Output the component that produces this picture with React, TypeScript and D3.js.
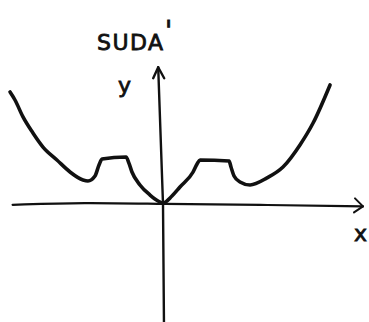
import React from "react";
import * as d3 from "d3";

// Curve sample points (data units)
const curveX = [-9.56, -9.25, -8.75, -8.13, -7.5, -6.63, -5.81, -5.0, -4.69, -4.25, -4.0, -3.81, -2.31, -2.13, -1.94, -1.44, -0.81, -0.31, 0, 0.56, 1.06, 1.88, 2.13, 2.31, 4.13, 4.25, 4.44, 4.81, 5.44, 6.5, 7.5, 8.56, 9.38, 10.44];
const curveY = [7.0, 6.5, 5.44, 4.44, 3.56, 2.75, 2.0, 1.5, 1.44, 1.75, 2.44, 2.81, 2.94, 2.56, 2.0, 1.19, 0.56, 0.19, 0.06, 0.5, 1.06, 2.0, 2.5, 2.75, 2.69, 2.31, 1.75, 1.38, 1.19, 1.63, 2.31, 3.69, 5.06, 7.44];

// Hand-drawn axes (data units)
const xAxisX = [-9.4, -5, 0, 6, 12.5];
const xAxisY = [-0.05, 0.1, 0, -0.05, -0.15];
const yAxisX = [0.06, 0, -0.3];
const yAxisY = [-7.4, 0, 8.55];

// Labels
const titleText = "SUDA";
const primeText = "'";
const yLabel = "y";
const xLabel = "x";

const W = 369;
const H = 322;

export default function App() {
  const x = d3.scaleLinear().domain([-10, 10]).range([3, 323]);
  const y = d3.scaleLinear().domain([0, 10]).range([204, 44]);

  const curve = d3
    .line<number>()
    .x((_, i) => x(curveX[i]))
    .y((_, i) => y(curveY[i]))
    .curve(d3.curveMonotoneX);

  const xAxis = d3
    .line<number>()
    .x((_, i) => x(xAxisX[i]))
    .y((_, i) => y(xAxisY[i]))
    .curve(d3.curveBasis);

  const yAxis = d3
    .line<number>()
    .x((_, i) => x(yAxisX[i]))
    .y((_, i) => y(yAxisY[i]));

  const xTipX = x(xAxisX[xAxisX.length - 1]);
  const xTipY = y(xAxisY[xAxisY.length - 1]);
  const yTipX = x(yAxisX[yAxisX.length - 1]);
  const yTipY = y(yAxisY[yAxisY.length - 1]);

  const font = "'DejaVu Sans', sans-serif";

  return (
    <svg
      width={W}
      height={H}
      style={{ position: "absolute", left: 0, top: 0, background: "#fff" }}
    >
      <g fill="none" stroke="#111" strokeLinecap="round" strokeLinejoin="round">
        <path d={xAxis(xAxisX) || ""} strokeWidth={2.2} />
        <path d={yAxis(yAxisX) || ""} strokeWidth={2.4} />
        <path
          d={`M${xTipX - 8},${xTipY - 8} L${xTipX},${xTipY} L${xTipX - 9},${xTipY + 6}`}
          strokeWidth={2}
        />
        <path
          d={`M${yTipX - 5},${yTipY + 11} L${yTipX},${yTipY} L${yTipX + 6},${yTipY + 11}`}
          strokeWidth={2.4}
        />
        <path d={curve(curveX) || ""} strokeWidth={3.6} />
      </g>
      <g fill="#111" stroke="#111" strokeWidth={0.8} fontFamily={font}>
        <text x={97} y={50} fontSize={22} letterSpacing={1.5}>
          {titleText}
        </text>
        <text x={165} y={40} fontSize={26}>
          {primeText}
        </text>
        <text x={118} y={93} fontSize={22}>
          {yLabel}
        </text>
        <text x={354} y={241} fontSize={22}>
          {xLabel}
        </text>
      </g>
    </svg>
  );
}
